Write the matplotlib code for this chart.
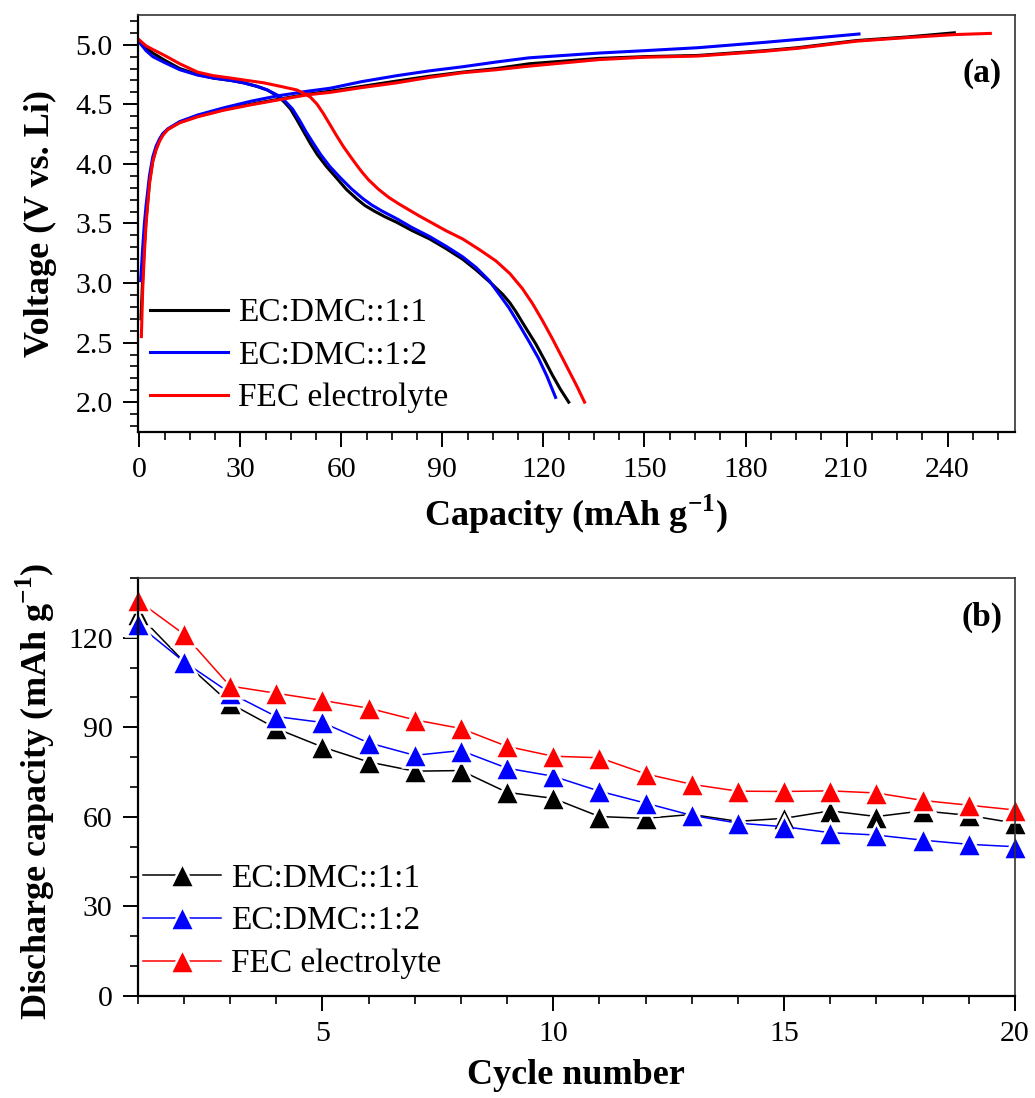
import matplotlib
matplotlib.use("Agg")
import matplotlib.pyplot as plt
from matplotlib.ticker import MultipleLocator, FormatStrFormatter

plt.rcParams['font.family'] = ['Liberation Serif', 'DejaVu Serif']
plt.rcParams['mathtext.fontset'] = 'custom'
plt.rcParams['mathtext.rm'] = 'Liberation Serif'
plt.rcParams['mathtext.bf'] = 'Liberation Serif:bold'

labels = ['EC:DMC::1:1', 'EC:DMC::1:2', 'FEC electrolyte']
colors = ['black', 'blue', 'red']

# ---- (a) charge / discharge profiles ----
cap_chg_11 = [0.5, 1, 1.5, 2, 3, 4, 5, 6, 7, 8.5, 12, 17.3, 25, 33, 40.9, 50, 56.7, 66, 76.4, 86,
              96, 106, 115.7, 136.4, 150, 165.9, 185.7, 195.5, 213, 228, 242]
v_chg_11 = [2.7, 3.05, 3.32, 3.53, 3.85, 4.03, 4.13, 4.2, 4.25, 4.29, 4.35, 4.40, 4.455, 4.50, 4.54,
            4.585, 4.61, 4.65, 4.695, 4.735, 4.77, 4.80, 4.84, 4.885, 4.90, 4.91, 4.95, 4.975, 5.035,
            5.065, 5.10]
cap_dis_11 = [0, 2, 4, 7.5, 12, 17.3, 22, 27.2, 31, 35, 38, 41, 43, 44.9, 46.8, 48.8, 50.8, 52.8,
              55.5, 58.6, 61.5, 64.6, 67, 70, 73, 76.4, 81, 86.2, 91, 96, 100, 104, 107.9, 110, 111.8,
              114.5, 117.7, 120.2, 122.6, 125, 127.5]
v_dis_11 = [5.03, 4.97, 4.93, 4.87, 4.80, 4.75, 4.72, 4.70, 4.68, 4.65, 4.62, 4.57, 4.52, 4.46, 4.37,
            4.27, 4.17, 4.08, 3.98, 3.88, 3.785, 3.705, 3.65, 3.60, 3.555, 3.51, 3.44, 3.37, 3.29,
            3.20, 3.11, 3.01, 2.905, 2.835, 2.76, 2.635, 2.49, 2.36, 2.23, 2.11, 2.0]

cap_chg_12 = [0.4, 1, 1.5, 2, 3, 4, 5, 6, 7, 8.5, 12, 17.3, 25, 33, 40.9, 50, 56.7, 66, 76.4, 86,
              96, 106, 115.7, 136.4, 150, 165.9, 185.7, 200, 213.7]
v_chg_12 = [3.02, 3.3, 3.5, 3.65, 3.9, 4.06, 4.15, 4.21, 4.255, 4.295, 4.355, 4.41, 4.47, 4.525,
            4.57, 4.61, 4.635, 4.69, 4.74, 4.78, 4.815, 4.855, 4.89, 4.93, 4.95, 4.975, 5.02, 5.055,
            5.09]
cap_dis_12 = [0, 2, 4, 7.5, 12, 17.3, 22, 27.2, 31, 35, 38, 41.5, 43.5, 45.5, 47.5, 49.5, 51.5, 53.8,
              56.5, 59.8, 63, 66.3, 69, 72, 76.4, 81, 86.2, 91, 96, 100, 103.9, 107, 109.8, 112.8,
              115.7, 118.5, 121, 123.6]
v_dis_12 = [5.02, 4.95, 4.90, 4.85, 4.79, 4.745, 4.72, 4.70, 4.68, 4.65, 4.62, 4.57, 4.52, 4.46, 4.37,
            4.27, 4.18, 4.08, 3.98, 3.88, 3.79, 3.71, 3.655, 3.605, 3.54, 3.465, 3.39, 3.31, 3.22,
            3.13, 3.02, 2.90, 2.79, 2.65, 2.51, 2.37, 2.22, 2.04]

cap_chg_fec = [0.6, 1, 1.5, 2, 3, 4, 5, 6, 7, 8.5, 12, 17.3, 25, 33, 40.9, 50, 56.7, 66, 76.4, 86,
               96, 106, 115.7, 136.4, 150, 165.9, 185.7, 195.5, 213, 228, 242, 252.7]
v_chg_fec = [2.55, 2.95, 3.25, 3.5, 3.83, 4.02, 4.12, 4.19, 4.24, 4.29, 4.345, 4.395, 4.45, 4.495,
             4.535, 4.58, 4.60, 4.64, 4.68, 4.725, 4.765, 4.79, 4.82, 4.875, 4.895, 4.905, 4.945, 4.97,
             5.03, 5.06, 5.085, 5.095]
cap_dis_fec = [0, 2, 4, 7.5, 12, 17.3, 22, 27.2, 32, 37, 42, 46.8, 49, 50.8, 52.8, 54.7, 56.6, 58.6,
               60.6, 62.6, 64, 66, 68, 71, 74, 77, 80, 83, 86.2, 91, 96, 101, 105.9, 110, 113.7,
               116.7, 119.6, 122.6, 126, 128, 130, 132.2]
v_dis_fec = [5.04, 4.99, 4.96, 4.91, 4.84, 4.77, 4.74, 4.72, 4.70, 4.68, 4.65, 4.62, 4.59, 4.56, 4.50,
             4.42, 4.33, 4.235, 4.145, 4.065, 4.01, 3.935, 3.868, 3.787, 3.72, 3.665, 3.615, 3.565,
             3.515, 3.44, 3.37, 3.28, 3.185, 3.08, 2.955, 2.83, 2.69, 2.535, 2.35, 2.24, 2.13, 2.0]

# ---- (b) cycling ----
cycles = list(range(1, 21))
dis_11 = [128, 112, 98, 89.6, 83.4, 78.4, 75.3, 75.5, 68.2, 66.2,
          60.1, 59.5, 60.8, 58.5, 59.5, 62.0, 60.1, 62.0, 60.5, 57.9]
dis_12 = [124.5, 112, 101.5, 93.6, 91.6, 84.8, 80.6, 82.2, 76.3, 73.6,
          68.6, 64.6, 60.5, 57.9, 56.7, 54.7, 53.9, 52.2, 50.8, 50.0]
dis_fec = [132.5, 121.2, 103.8, 101.4, 99, 96.4, 92.5, 89.6, 83.6, 80.3,
           79.8, 74.4, 70.9, 68.6, 68.5, 68.7, 68.0, 65.5, 63.9, 62.3]

fig = plt.figure(figsize=(10.35, 10.98), dpi=100)
ax1 = fig.add_axes([0.133, 0.6066, 0.8476, 0.3798])
ax2 = fig.add_axes([0.133, 0.0929, 0.8476, 0.3807])

profiles = [(cap_chg_11, v_chg_11, cap_dis_11, v_dis_11),
            (cap_chg_12, v_chg_12, cap_dis_12, v_dis_12),
            (cap_chg_fec, v_chg_fec, cap_dis_fec, v_dis_fec)]
for (cc, vc, cd, vd), col, lab in zip(profiles, colors, labels):
    ax1.plot(cc, vc, color=col, lw=2.2, label=lab)
    ax1.plot(cd, vd, color=col, lw=2.2)

ax1.set_xlim(-0.5, 260)
ax1.set_ylim(1.75, 5.25)
ax1.xaxis.set_major_locator(MultipleLocator(30))
ax1.xaxis.set_minor_locator(MultipleLocator(7.5))
ax1.yaxis.set_major_locator(MultipleLocator(0.5))
ax1.yaxis.set_minor_locator(MultipleLocator(0.1))
ax1.yaxis.set_major_formatter(FormatStrFormatter('%.1f'))
ax1.set_xlabel(r'Capacity (mAh g$^{\mathbf{-1}}$)', fontsize=26, fontweight='bold', labelpad=7)
ax1.set_ylabel('Voltage (V vs. Li)', fontsize=26, fontweight='bold')
ax1.yaxis.set_label_coords(-0.092, 0.5)
ax1.text(0.962, 0.86, '(a)', transform=ax1.transAxes, fontsize=24, fontweight='bold',
         ha='center', va='center')
ax1.legend(loc='upper left', bbox_to_anchor=(0.014, 0.322), frameon=False, fontsize=24,
           handlelength=2.35, handletextpad=0.3, labelspacing=0.36, borderpad=0, borderaxespad=0)

for d, col, lab in zip([dis_11, dis_12, dis_fec], colors, labels):
    ax2.plot(cycles, d, color=col, lw=1.1, marker='^', markersize=17,
             markerfacecolor=col, markeredgecolor='white', markeredgewidth=1.8, label=lab,
             clip_on=False)

ax2.set_xlim(1, 20)
ax2.set_ylim(0, 140)
ax2.xaxis.set_major_locator(MultipleLocator(5))
ax2.xaxis.set_minor_locator(MultipleLocator(1))
ax2.yaxis.set_major_locator(MultipleLocator(30))
ax2.yaxis.set_minor_locator(MultipleLocator(10))
ax2.set_xlabel('Cycle number', fontsize=26, fontweight='bold', labelpad=9)
ax2.set_ylabel(r'Discharge capacity (mAh g$^{\mathbf{-1}}$)', fontsize=26, fontweight='bold')
ax2.yaxis.set_label_coords(-0.092, 0.49)
ax2.text(0.962, 0.905, '(b)', transform=ax2.transAxes, fontsize=24, fontweight='bold',
         ha='center', va='center')
ax2.legend(loc='upper left', bbox_to_anchor=(0.006, 0.318), frameon=False, fontsize=24,
           numpoints=1, handlelength=2.35, handletextpad=0.3, labelspacing=0.37,
           borderpad=0, borderaxespad=0)

for ax in (ax1, ax2):
    ax.tick_params(axis='both', which='major', direction='out', length=11, width=1.4,
                   labelsize=21.5, pad=7, top=False, right=False)
    ax.tick_params(axis='both', which='minor', direction='out', length=6, width=1.2,
                   top=False, right=False)
    for side in ('left', 'bottom'):
        ax.spines[side].set_linewidth(1.6)
    for side in ('top', 'right'):
        ax.spines[side].set_linewidth(1.2)
        ax.spines[side].set_color('#333333')

fig.savefig('out.png', dpi=100)
